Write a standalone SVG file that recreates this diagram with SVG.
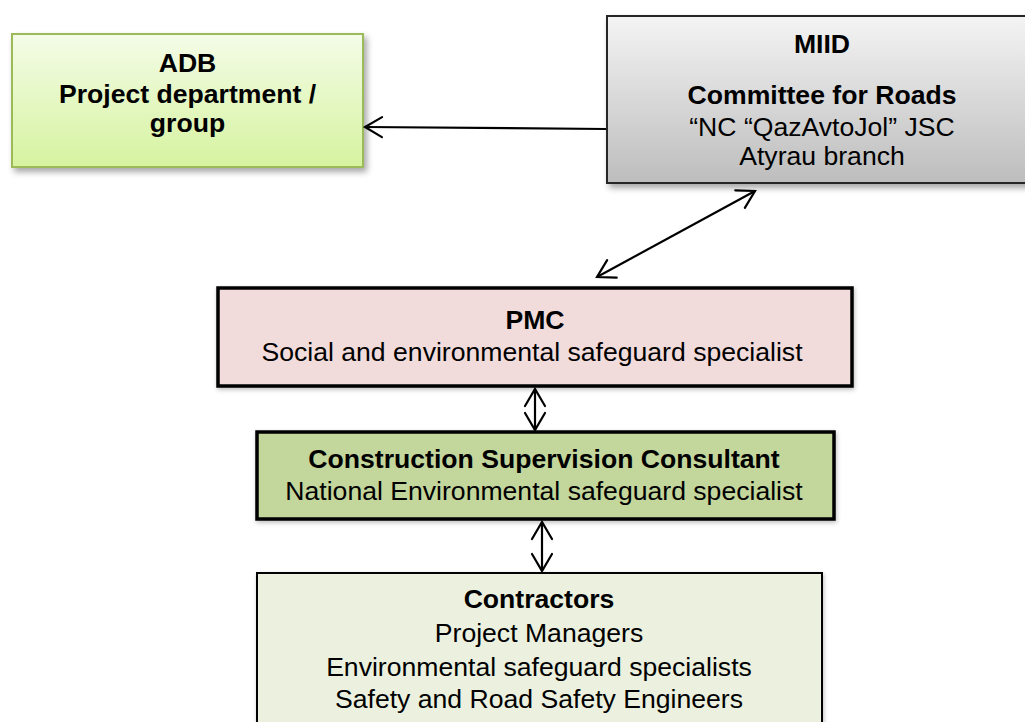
<svg xmlns="http://www.w3.org/2000/svg" width="1025" height="722" viewBox="0 0 1025 722">
  <defs>
    <linearGradient id="gAdb" x1="0" y1="0" x2="0" y2="1">
      <stop offset="0" stop-color="#f4fce8"/>
      <stop offset="1" stop-color="#d6f39f"/>
    </linearGradient>
    <linearGradient id="gMiid" x1="0" y1="0" x2="0" y2="1">
      <stop offset="0" stop-color="#f4f4f4"/>
      <stop offset="1" stop-color="#bdbdbd"/>
    </linearGradient>
    <filter id="shadow" x="-10%" y="-10%" width="125%" height="130%">
      <feDropShadow dx="3" dy="4" stdDeviation="3" flood-color="#000" flood-opacity="0.35"/>
    </filter>
    <filter id="shadowSm" x="-10%" y="-10%" width="125%" height="130%">
      <feDropShadow dx="1" dy="2" stdDeviation="2" flood-color="#000" flood-opacity="0.25"/>
    </filter>
    <marker id="arr" markerUnits="userSpaceOnUse" markerWidth="22" markerHeight="24" refX="18" refY="12" orient="auto-start-reverse" overflow="visible">
      <path d="M1,2 L18,12 L1,22" fill="none" stroke="#000" stroke-width="2.2" stroke-linecap="round" stroke-linejoin="miter"/>
    </marker>
    <style>
      text { font-family: "Liberation Sans", Arial, sans-serif; font-size: 26.6px; fill: #000; text-anchor: middle; }
      .b { font-weight: bold; }
      .conn { fill: none; stroke: #000; stroke-width: 2.2; }
    </style>
  </defs>
  <rect width="1025" height="722" fill="#fff"/>

  <g id="adb">
    <rect x="12" y="34" width="351" height="133" fill="url(#gAdb)" stroke="#9bbb59" stroke-width="2" filter="url(#shadow)"/>
    <text class="b" x="187.5" y="72">ADB</text>
    <text class="b" x="187.5" y="103">Project department /</text>
    <text class="b" x="187.5" y="132">group</text>
  </g>

  <g id="miid">
    <rect x="607" y="16" width="430" height="167" fill="url(#gMiid)" stroke="#262626" stroke-width="2" filter="url(#shadow)"/>
    <text class="b" x="822" y="53">MIID</text>
    <text class="b" x="822" y="104">Committee for Roads</text>
    <text x="822" y="136">“NC “QazAvtoJol” JSC</text>
    <text x="822" y="165">Atyrau branch</text>
  </g>

  <g id="pmc">
    <rect x="218" y="288" width="634" height="98" fill="#f2dcdb" stroke="#000" stroke-width="3.5" filter="url(#shadowSm)"/>
    <text class="b" x="535" y="329">PMC</text>
    <text x="532" y="361">Social and environmental safeguard specialist</text>
  </g>

  <g id="csc">
    <rect x="257" y="432" width="577" height="87" fill="#c3d69b" stroke="#000" stroke-width="3.5" filter="url(#shadowSm)"/>
    <text class="b" x="544" y="468">Construction Supervision Consultant</text>
    <text x="544" y="500">National Environmental safeguard specialist</text>
  </g>

  <g id="contractors">
    <rect x="257" y="573" width="565" height="170" fill="#ebf1de" stroke="#000" stroke-width="2" filter="url(#shadowSm)"/>
    <text class="b" x="539" y="608">Contractors</text>
    <text x="539" y="642">Project Managers</text>
    <text x="539" y="676">Environmental safeguard specialists</text>
    <text x="539" y="708">Safety and Road Safety Engineers</text>
  </g>

  <g id="connectors">
    <line class="conn" x1="606" y1="129" x2="365" y2="127" marker-end="url(#arr)"/>
    <line class="conn" x1="597" y1="277" x2="755" y2="191" marker-start="url(#arr)" marker-end="url(#arr)"/>
    <line class="conn" x1="535" y1="389" x2="535" y2="430" marker-start="url(#arr)" marker-end="url(#arr)"/>
    <line class="conn" x1="542" y1="522" x2="542" y2="571" marker-start="url(#arr)" marker-end="url(#arr)"/>
  </g>
</svg>
